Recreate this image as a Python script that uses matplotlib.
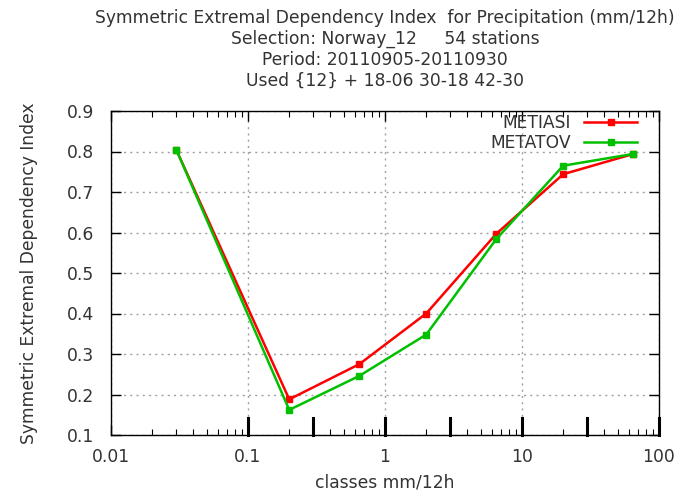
import matplotlib
matplotlib.use("Agg")
import matplotlib.pyplot as plt
import matplotlib.transforms as mtransforms
from matplotlib.ticker import LogLocator, FixedLocator, NullFormatter

x_classes = [0.03, 0.2, 0.65, 2, 6.5, 20, 65]
metiasi = [0.804, 0.188, 0.275, 0.400, 0.597, 0.744, 0.794]
metatov = [0.804, 0.162, 0.246, 0.348, 0.584, 0.765, 0.794]
class_bounds = [0.1, 0.3, 1, 3, 10, 30, 100]
x_ticks = [0.01, 0.1, 1, 10, 100]
x_ticklabels = ["0.01", "0.1", "1", "10", "100"]
y_ticks = [0.1, 0.2, 0.3, 0.4, 0.5, 0.6, 0.7, 0.8, 0.9]

title = ("Symmetric Extremal Dependency Index  for Precipitation (mm/12h)\n"
         "Selection: Norway_12     54 stations\n"
         "Period: 20110905-20110930\n"
         "Used {12} + 18-06 30-18 42-30")

plt.rcParams['font.family'] = ['DejaVu Sans']
txt = '#333333'
fs = 12.3

fig = plt.figure(figsize=(6.77, 4.96), dpi=100)
ax = fig.add_axes([111/677, 1-435/496, (659-111)/677, (435-111)/496])

ax.set_xscale('log')
ax.set_xlim(0.01, 100)
ax.set_ylim(0.1, 0.9)

ax.plot(x_classes, metiasi, color='#ff0000', lw=1.8, marker='s', ms=4.5, label='METIASI', zorder=3)
ax.plot(x_classes, metatov, color='#00c000', lw=1.8, marker='s', ms=4.5, label='METATOV', zorder=4)

trans = mtransforms.blended_transform_factory(ax.transData, ax.transAxes)
for b in class_bounds:
    ax.plot([b, b], [0, 0.052], transform=trans, color='black', lw=2.2, clip_on=False, zorder=5)

ax.xaxis.set_major_locator(FixedLocator(x_ticks))
ax.set_xticklabels(x_ticklabels)
ax.xaxis.set_minor_locator(LogLocator(base=10, subs=range(2, 10)))
ax.xaxis.set_minor_formatter(NullFormatter())
ax.set_yticks(y_ticks)
ax.set_yticklabels([f"{v:.1f}" for v in y_ticks])

ax.tick_params(which='major', direction='in', length=7, width=1, top=True, right=True,
               labelsize=fs, labelcolor=txt)
ax.tick_params(axis='y', which='major', pad=12)
ax.tick_params(axis='x', which='major', pad=9)
ax.tick_params(which='minor', direction='in', length=4, width=0.8, top=True, right=True)
ax.grid(True, which='major', color='#a0a0a0', linestyle=(0, (1.5, 3)), lw=1)

for s in ax.spines.values():
    s.set_linewidth(1)
    s.set_color('black')

ax.set_xlabel('classes mm/12h', fontsize=fs, color=txt, labelpad=6)
ax.set_ylabel('Symmetric Extremal Dependency Index', fontsize=fs, color=txt, labelpad=21)

fig.text((111+659)/2/677, 1-9/496, title, ha='center', va='top', fontsize=fs,
         color=txt, linespacing=1.2)

leg = ax.legend(loc='upper right', frameon=False, markerfirst=False, fontsize=fs,
                handlelength=3.1, labelspacing=0.12, borderaxespad=0.0, handletextpad=0.76,
                bbox_to_anchor=(0.9726, 1.012))
for t in leg.get_texts():
    t.set_color(txt)

fig.savefig('out.png', dpi=100)
